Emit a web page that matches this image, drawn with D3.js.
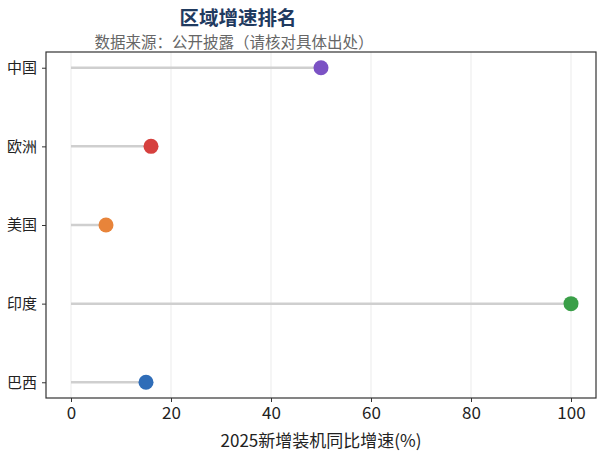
<!DOCTYPE html>
<html><head><meta charset="utf-8">
<script src="https://cdn.jsdelivr.net/npm/d3@7"></script>
<style>body{margin:0;background:#fff}svg{display:block}</style>
</head><body>
<svg id="chart" width="605" height="456"></svg>
<script>
const regions = ["中国","欧洲","美国","印度","巴西"];
const growth = [50, 16, 7, 100, 15];
const dotColors = ["#7b52c4","#d6403e","#e8843a","#3a9f48","#2f6db8"];
const xTicks = [0,20,40,60,80,100];
const titleText = "区域增速排名";
const subtitleText = "数据来源：公开披露（请核对具体出处）";
const xLabel = "2025新增装机同比增速(%)";

const svg = d3.select("#chart");
const L = 46, R = 596, T = 52, B = 398;
const font = "'Noto Sans CJK SC','Noto Sans',sans-serif";

const x = d3.scaleLinear().domain([-5,105]).range([L,R]);
const y = d3.scalePoint().domain(regions).range([T,B]).padding(0.2);

// grid
svg.append("g").selectAll("line").data(xTicks).join("line")
  .attr("x1",d=>x(d)).attr("x2",d=>x(d)).attr("y1",T).attr("y2",B)
  .attr("stroke","#ebebeb").attr("stroke-width",1);

// stems
svg.append("g").selectAll("line").data(regions).join("line")
  .attr("x1",x(0)).attr("x2",(d,i)=>x(growth[i]))
  .attr("y1",d=>y(d)).attr("y2",d=>y(d))
  .attr("stroke","#cfcfcf").attr("stroke-width",2.5);

// dots
svg.append("g").selectAll("circle").data(regions).join("circle")
  .attr("cx",(d,i)=>x(growth[i])).attr("cy",d=>y(d)).attr("r",7.5)
  .attr("fill",(d,i)=>dotColors[i]);

// frame
svg.append("rect").attr("x",L).attr("y",T).attr("width",R-L).attr("height",B-T)
  .attr("fill","none").attr("stroke","#333").attr("stroke-width",1.2);

// x axis
const xa = svg.append("g").attr("transform",`translate(0,${B})`)
  .call(d3.axisBottom(x).tickValues(xTicks).tickSize(4).tickPadding(5).tickFormat(d3.format("d")));
xa.select(".domain").remove();
xa.selectAll("line").attr("stroke","#333");
xa.selectAll("text").attr("font-family",font).attr("font-size",17).attr("fill","#222");

// y axis
const ya = svg.append("g").attr("transform",`translate(${L},0)`)
  .call(d3.axisLeft(y).tickSize(4).tickPadding(5));
ya.select(".domain").remove();
ya.selectAll("line").attr("stroke","#333");
ya.selectAll("text").attr("font-family",font).attr("font-size",15).attr("fill","#222");

// titles
svg.append("text").attr("x",238).attr("y",24.5).attr("text-anchor","middle")
  .attr("font-family",font).attr("font-size",19.5).attr("font-weight","bold")
  .attr("fill","#1f3a5f").text(titleText);
svg.append("text").attr("x",234).attr("y",48).attr("text-anchor","middle")
  .attr("font-family",font).attr("font-size",15.5).attr("fill","#666").text(subtitleText);
svg.append("text").attr("x",(L+R)/2).attr("y",447).attr("text-anchor","middle")
  .attr("font-family",font).attr("font-size",17).attr("fill","#222").text(xLabel);
</script>
</body></html>
